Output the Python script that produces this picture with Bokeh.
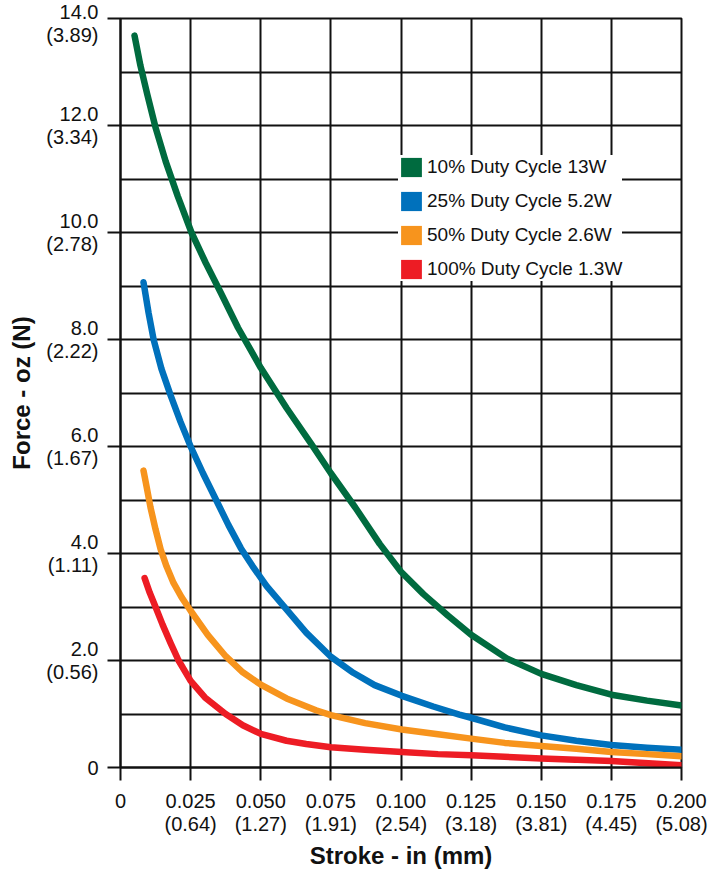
from bokeh.plotting import figure
from bokeh.models import Legend, LegendItem, FixedTicker, Range1d
from bokeh.embed import file_html
from bokeh.resources import INLINE

# ---- data ----
x_ticks = [0.0, 0.025, 0.05, 0.075, 0.1, 0.125, 0.15, 0.175, 0.2]
x_labels = ["0", "0.025\n(0.64)", "0.050\n(1.27)", "0.075\n(1.91)", "0.100\n(2.54)",
            "0.125\n(3.18)", "0.150\n(3.81)", "0.175\n(4.45)", "0.200\n(5.08)"]
y_ticks = [0, 2, 4, 6, 8, 10, 12, 14]
y_labels = ["0", "2.0\n(0.56)", "4.0\n(1.11)", "6.0\n(1.67)", "8.0\n(2.22)",
            "10.0\n(2.78)", "12.0\n(3.34)", "14.0\n(3.89)"]
y_grid = [0, 1, 2, 3, 4, 5, 6, 7, 8, 9, 10, 11, 12, 13, 14]

names = ["10% Duty Cycle 13W", "25% Duty Cycle 5.2W", "50% Duty Cycle 2.6W", "100% Duty Cycle 1.3W"]
colors = ["#006B3F", "#0071BC", "#F7941D", "#ED1C24"]

x_10 = [0.005, 0.0071, 0.0096, 0.0125, 0.0161, 0.0204, 0.0253, 0.0304, 0.0358, 0.0419, 0.05,
        0.0592, 0.068, 0.075, 0.0837, 0.0924, 0.1, 0.108, 0.1167, 0.125, 0.1377, 0.15,
        0.1625, 0.175, 0.1877, 0.2]
f_10 = [13.68, 13.12, 12.57, 11.96, 11.33, 10.68, 10.0, 9.43, 8.87, 8.22, 7.47,
        6.72, 6.05, 5.5, 4.86, 4.18, 3.66, 3.24, 2.84, 2.48, 2.04, 1.75,
        1.54, 1.36, 1.25, 1.16]

x_25 = [0.0082, 0.0100, 0.0118, 0.0146, 0.0179, 0.0214, 0.025, 0.0294, 0.0341, 0.0385, 0.0429,
        0.047, 0.0521, 0.0581, 0.0662, 0.075, 0.083, 0.0906, 0.1003, 0.1115, 0.1208, 0.125,
        0.137, 0.15, 0.1625, 0.175, 0.1877, 0.2]
f_25 = [9.07, 8.5, 8.0, 7.45, 6.95, 6.46, 6.0, 5.5, 5.0, 4.53, 4.1,
        3.77, 3.39, 3.02, 2.52, 2.07, 1.77, 1.54, 1.34, 1.14, 0.99, 0.93,
        0.75, 0.6, 0.5, 0.42, 0.37, 0.33]

x_50 = [0.0082, 0.0093, 0.0107, 0.0125, 0.0143, 0.0164, 0.0189, 0.0218, 0.025, 0.0311, 0.0375,
        0.0436, 0.05, 0.0592, 0.0697, 0.075, 0.0872, 0.1003, 0.1132, 0.125, 0.137, 0.15,
        0.1625, 0.175, 0.1877, 0.2]
f_50 = [5.55, 5.25, 4.86, 4.45, 4.08, 3.76, 3.45, 3.18, 2.93, 2.48, 2.08,
        1.78, 1.55, 1.29, 1.07, 0.98, 0.83, 0.71, 0.62, 0.54, 0.46, 0.40,
        0.35, 0.29, 0.25, 0.21]

x_100 = [0.0086, 0.0104, 0.0125, 0.015, 0.0179, 0.0207, 0.025, 0.0301, 0.0375, 0.0436, 0.05,
         0.0592, 0.0662, 0.075, 0.0872, 0.1003, 0.1132, 0.125, 0.15, 0.175, 0.2]
f_100 = [3.54, 3.27, 3.0, 2.67, 2.32, 2.0, 1.62, 1.31, 1.0, 0.79, 0.63,
         0.5, 0.44, 0.38, 0.33, 0.29, 0.25, 0.23, 0.17, 0.12, 0.04]

series = [(x_10, f_10), (x_25, f_25), (x_50, f_50), (x_100, f_100)]

FONT = "Liberation Sans"
INK = "#111111"

p = figure(width=725, height=871, x_range=Range1d(0, 0.2), y_range=Range1d(0, 14),
           output_backend="svg", toolbar_location=None,
           min_border_left=120, min_border_right=44, min_border_top=18, min_border_bottom=101)
p.background_fill_color = "white"
p.border_fill_color = "white"
p.outline_line_color = INK
p.outline_line_width = 2

# grid
p.xgrid.ticker = FixedTicker(ticks=x_ticks)
p.ygrid.ticker = FixedTicker(ticks=y_grid)
for g in (p.xgrid, p.ygrid):
    g.grid_line_color = INK
    g.grid_line_width = 2
    g.grid_line_alpha = 1.0

# axes
p.xaxis.ticker = FixedTicker(ticks=x_ticks)
p.xaxis.major_label_overrides = dict(zip(x_ticks, x_labels))
p.yaxis.ticker = FixedTicker(ticks=y_ticks)
p.yaxis.major_label_overrides = dict(zip(y_ticks, y_labels))
for ax in (p.xaxis[0], p.yaxis[0]):
    ax.axis_line_color = INK
    ax.axis_line_width = 2
    ax.major_tick_line_color = INK
    ax.major_tick_line_width = 2
    ax.major_tick_in = 0
    ax.major_tick_out = 13
    ax.minor_tick_line_color = None
    ax.major_label_text_font = FONT
    ax.major_label_text_font_size = "20px"
    ax.major_label_text_color = INK
    ax.major_label_text_line_height = 1.05
    ax.axis_label_text_font = FONT
    ax.axis_label_text_font_size = "24px"
    ax.axis_label_text_font_style = "bold"
    ax.axis_label_text_color = INK
p.xaxis.major_label_standoff = 9
p.yaxis.major_label_standoff = 9
p.xaxis.axis_label = "Stroke - in (mm)"
p.yaxis.axis_label = "Force - oz (N)"
p.xaxis.axis_label_standoff = 4
p.yaxis.axis_label_standoff = 8

# curves + legend swatches (zero-size quads at each curve's first point)
items = []
for (xs, ys), c, name in zip(series, colors, names):
    p.line(xs, ys, line_color=c, line_width=6.5, line_cap="round", line_join="round")
    q = p.quad(left=xs[:1], right=xs[:1], top=ys[:1], bottom=ys[:1],
               fill_color=c, line_color=None)
    items.append(LegendItem(label=name, renderers=[q]))

legend = Legend(items=items, location=(278, 486), glyph_width=26, glyph_height=24,
                label_standoff=3, spacing=10, padding=10, margin=0,
                background_fill_color="white", background_fill_alpha=1.0,
                border_line_color=None, label_text_font=FONT,
                label_text_font_size="19px", label_text_color=INK, label_height=24)
p.add_layout(legend)

open("out.html", "w").write(file_html(p, INLINE))
